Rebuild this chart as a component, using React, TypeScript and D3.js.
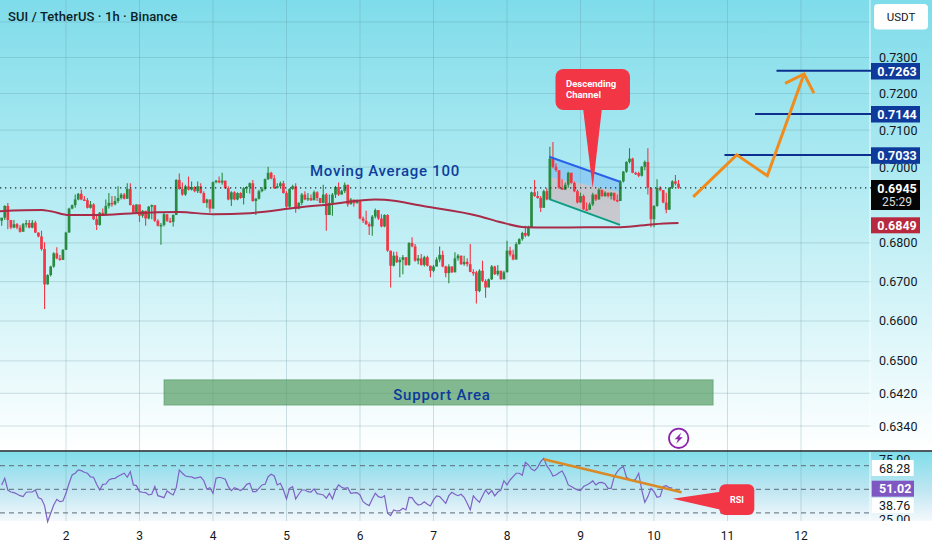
/**
 * SUI / TetherUS 1h chart with hand drawn analysis on top.
 * Prices are kept in ten-thousandths (6945 = 0.6945).
 */
import * as d3 from 'd3';

const FIRST_HOUR = -21; // hours counted from the "2" day tick

const closes = [
  6866, 6897, 6860, 6840, 6849, 6840, 6829, 6849, 6852, 6840, 6853, 6827, 6817, 6784, 6693, 6717, 6739, 6773, 6760, 6756,
  6782, 6827, 6890, 6899, 6914, 6929, 6914, 6912, 6892, 6901, 6862, 6847, 6879, 6875, 6897, 6905, 6901, 6910, 6918, 6927,
  6916, 6942, 6899, 6879, 6901, 6871, 6884, 6864, 6895, 6899, 6858, 6845, 6847, 6875, 6858, 6855, 6873, 6966, 6942, 6927,
  6949, 6940, 6947, 6936, 6949, 6931, 6905, 6914, 6890, 6960, 6964, 6959, 6964, 6944, 6914, 6933, 6914, 6931, 6918, 6944,
  6947, 6957, 6910, 6916, 6936, 6942, 6968, 6985, 6970, 6944, 6949, 6957, 6931, 6895, 6942, 6949, 6890, 6905,
  6927, 6914, 6918, 6912, 6933, 6918, 6905, 6927, 6873, 6905, 6927, 6947, 6927, 6936, 6953, 6901, 6914, 6904, 6910, 6864,
  6858, 6849, 6843, 6869, 6886, 6864, 6843, 6873, 6780, 6741, 6767, 6750, 6756, 6763, 6743, 6800, 6791, 6754, 6760, 6743,
  6763, 6741, 6728, 6739, 6757, 6769, 6739, 6722, 6739, 6724, 6760, 6767, 6745, 6751, 6745, 6725, 6724, 6676, 6728, 6702,
  6685, 6706, 6739, 6719, 6728, 6706, 6724, 6780, 6770, 6757, 6797, 6810, 6826, 6819, 6841, 6933, 6923, 6918, 6892, 6936, 6914,
  7023, 7001, 6992, 6945, 6940, 6953, 6985, 6958, 6936, 6906, 6923, 6888, 6887, 6901, 6927, 6914, 6940, 6923, 6932, 6923,
  6932, 6913, 6910, 6962, 6988, 7014, 7023, 6985, 6984, 6977, 7001, 7014, 6945, 6862, 6897, 6945, 6939, 6906, 6887, 6945,
  6962, 6956, 6945,
];

const highs = [
  6866, 6899, 6905, 6860, 6860, 6852, 6847, 6852, 6860, 6860, 6860, 6858, 6827, 6832, 6802, 6719, 6741, 6776, 6789, 6769,
  6784, 6829, 6892, 6901, 6927, 6931, 6940, 6923, 6918, 6910, 6904, 6875, 6881, 6890, 6914, 6931, 6923, 6923, 6949, 6931,
  6931, 6957, 6957, 6901, 6901, 6888, 6886, 6884, 6897, 6901, 6899, 6862, 6852, 6879, 6875, 6866, 6875, 6968, 6983, 6959,
  6953, 6975, 6962, 6949, 6962, 6957, 6936, 6916, 6914, 6962, 6966, 6975, 6985, 6964, 6949, 6936, 6936, 6933, 6933, 6947,
  6950, 6959, 6966, 6918, 6940, 6947, 6970, 7001, 6988, 6979, 6957, 6962, 6964, 6936, 6944, 6953, 6957, 6907,
  6931, 6936, 6931, 6927, 6938, 6936, 6918, 6953, 6931, 6927, 6931, 6950, 6959, 6940, 6959, 6953, 6918, 6910, 6914, 6912,
  6869, 6884, 6854, 6873, 6890, 6886, 6875, 6875, 6875, 6780, 6777, 6777, 6763, 6769, 6763, 6802, 6815, 6797, 6769, 6771,
  6767, 6767, 6741, 6743, 6763, 6791, 6780, 6741, 6745, 6739, 6776, 6771, 6767, 6767, 6760, 6797, 6732, 6728, 6732, 6754,
  6706, 6708, 6743, 6741, 6743, 6728, 6728, 6806, 6790, 6782, 6802, 6812, 6829, 6845, 6845, 6935, 6966, 6936, 6923, 6940, 6944,
  7055, 7068, 7010, 6988, 6968, 6959, 6988, 6985, 6962, 6940, 6932, 6927, 6906, 6906, 6932, 6927, 6945, 6939, 6936, 6932,
  6933, 6927, 6927, 6965, 6990, 7016, 7051, 7025, 6988, 6988, 7003, 7018, 7051, 6945, 6899, 6968, 6949, 6936, 6932, 6947,
  6965, 6979, 6966,
];

const lows = [
  6845, 6860, 6836, 6836, 6838, 6836, 6827, 6832, 6840, 6838, 6838, 6826, 6815, 6780, 6630, 6693, 6713, 6736, 6758, 6754,
  6756, 6782, 6827, 6888, 6892, 6912, 6912, 6910, 6890, 6890, 6860, 6834, 6845, 6871, 6873, 6890, 6895, 6899, 6905, 6914,
  6914, 6916, 6899, 6878, 6878, 6855, 6866, 6845, 6862, 6862, 6855, 6843, 6795, 6843, 6855, 6852, 6843, 6873, 6940, 6924,
  6924, 6938, 6938, 6933, 6931, 6930, 6904, 6892, 6879, 6890, 6957, 6957, 6953, 6942, 6912, 6897, 6912, 6912, 6916, 6901,
  6931, 6930, 6908, 6873, 6914, 6933, 6938, 6966, 6968, 6942, 6944, 6947, 6930, 6892, 6892, 6940, 6879, 6888,
  6899, 6912, 6910, 6910, 6912, 6910, 6904, 6904, 6832, 6873, 6871, 6918, 6923, 6927, 6931, 6895, 6905, 6895, 6904, 6862,
  6852, 6847, 6821, 6819, 6864, 6860, 6841, 6841, 6777, 6685, 6739, 6748, 6711, 6719, 6741, 6741, 6789, 6751, 6745, 6741,
  6739, 6739, 6711, 6724, 6739, 6750, 6737, 6711, 6696, 6722, 6724, 6754, 6743, 6741, 6739, 6724, 6715, 6644, 6673, 6699,
  6659, 6687, 6704, 6717, 6715, 6705, 6706, 6724, 6765, 6755, 6757, 6796, 6806, 6815, 6817, 6841, 6921, 6916, 6881, 6892, 6912,
  6927, 6997, 6988, 6942, 6939, 6940, 6945, 6956, 6933, 6904, 6906, 6887, 6884, 6886, 6897, 6910, 6914, 6921, 6921, 6919,
  6914, 6910, 6907, 6910, 6959, 6985, 7010, 6984, 6979, 6973, 6975, 6992, 6927, 6841, 6841, 6895, 6936, 6904, 6878, 6887,
  6942, 6951, 6942,
];

// 100 period moving average, read at the places where it bends
const maHours = [-22, -8, -5, 1, 11, 22, 37, 48, 60, 73, 76, 86, 101, 104, 117, 135, 142, 150, 158, 170, 181, 192, 200];
const maValues = [6883, 6886, 6883, 6873, 6873, 6878, 6881, 6875, 6878, 6890, 6893, 6901, 6914, 6913, 6896, 6870, 6854, 6841, 6840, 6841, 6841, 6849, 6852];

const rsiValues = [
  53.7, 59.3, 49.4, 47.7, 47.2, 46.0, 44.6, 43.8, 47.5, 47.7, 47.7, 49.4, 42.9, 41.8, 36.2, 22.6, 29.7, 36.7, 41.5, 39.5,
  40.1, 46.6, 55.1, 62.1, 63.6, 66.4, 65.8, 64.4, 63.6, 60.5, 60.2, 54.2, 49.4, 54.2, 54.5, 57.9, 59.0, 59.3, 61.0, 62.4,
  63.6, 60.2, 65.0, 53.7, 53.1, 48.0, 47.5, 47.2, 45.2, 45.8, 52.3, 44.6, 43.8, 42.9, 48.6, 46.6, 45.2, 51.4, 66.4, 63.6,
  61.3, 60.7, 60.5, 59.3, 59.9, 60.5, 57.3, 50.3, 51.4, 46.6, 59.3, 60.2, 59.6, 58.5, 52.3, 48.9, 51.4, 50.3, 48.9, 50.8,
  54.2, 55.1, 48.0, 48.0, 50.8, 53.7, 54.2, 60.7, 62.7, 61.3, 53.7, 55.1, 49.4, 41.8, 50.8, 52.3, 41.8, 45.8, 49.4, 49.4,
  48.0, 47.7, 50.3, 46.3, 45.8, 45.2, 42.4, 46.6, 41.8, 49.4, 53.7, 51.7, 50.8, 51.4, 46.6, 46.9, 47.2, 45.2, 39.5, 37.6,
  36.2, 41.8, 46.6, 43.8, 42.9, 44.6, 29.7, 27.7, 32.5, 31.6, 31.9, 33.9, 32.5, 43.2, 42.9, 39.0, 36.7, 37.3, 39.5, 37.3,
  35.9, 41.0, 44.4, 43.8, 41.0, 38.1, 44.6, 47.5, 45.8, 44.6, 45.8, 43.2, 38.1, 32.5, 44.4, 41.4, 39.0, 44.4, 49.4, 46.0,
  48.9, 44.4, 47.7, 49.4, 57.3, 53.7, 57.9, 60.7, 63.6, 63.6, 61.9, 72.9, 70.6, 67.2, 65.8, 68.6, 73.4, 76.3, 69.8, 66.4,
  61.3, 62.1, 64.1, 65.5, 60.7, 53.7, 52.3, 50.8, 49.4, 48.9, 52.3, 53.7, 55.1, 57.1, 53.7, 55.6, 55.9, 54.8, 50.8, 50.8,
  60.7, 65.0, 67.8, 69.2, 60.2, 58.5, 57.3, 58.5, 63.6, 49.4, 39.0, 43.8, 50.8, 48.0, 43.2, 43.8, 52.3, 53.1, 51.4, 51.0,
];

const priceTicks = [0.74, 0.73, 0.72, 0.71, 0.7, 0.68, 0.67, 0.66, 0.65, 0.642, 0.634];
const priceLabels = [0.73, 0.72, 0.71, 0.7, 0.68, 0.67, 0.66, 0.65, 0.642, 0.634];
const dayLabels = [2, 3, 4, 5, 6, 7, 8, 9, 10, 11, 12];
const rsiLevels = [70, 50, 30];

const targets = [
  { price: 0.7033, from: 215 },
  { price: 0.7144, from: 225 },
  { price: 0.7263, from: 232 },
];

// drawn path and arrow head, as [hour, price]
const projection: [number, number][] = [[204.8, 0.6921], [219, 0.7033], [229, 0.6977], [241, 0.7254]];
const arrowHead: [number, number][] = [[234.8, 0.7228], [241, 0.7254], [244.2, 0.7201]];
const channelTop: [number, number][] = [[157.8, 0.7028], [180.9, 0.6961]];
const channelMid: [number, number][] = [[157.8, 0.6974], [180.9, 0.6934]];
const channelBottom: [number, number][] = [[157.8, 0.6915], [180.9, 0.6847]];
const rsiTrend: [number, number][] = [[156, 75.5], [201, 47.5]];

const LAST_PRICE = 0.6945;
const SUPPORT = { from: 32, to: 211.3, top: 0.6453, bottom: 0.6391 };

const FONT = 'Roboto, sans-serif';
const UP = '#2b8a42';
const DOWN = '#f23645';
const NAVY = '#0d3a9b';
const ORANGE = '#f08c1e';
const AXIS_X = 871;

const x = d3.scaleLinear().domain([0, 240]).range([66, 801]);
const y = d3.scaleLog().domain([0.634, 0.73]).range([426, 57.5]);
const yRsi = d3.scaleLinear().domain([25, 75]).range([518.8, 459.8]);

const priceLine = d3.line<[number, number]>().x((d) => x(d[0])).y((d) => y(d[1]));
const rsiLine = d3.line<[number, number]>().x((d) => x(d[0])).y((d) => yRsi(d[1]));
const maLine = d3
  .line<number>()
  .x((_d, i) => x(maHours[i]))
  .y((d) => y(d / 10000))
  .curve(d3.curveMonotoneX);

function band(top: [number, number][], bottom: [number, number][]) {
  return priceLine([...top, ...[...bottom].reverse()]) + 'Z';
}

function Tag({ top, h, fill, text }: { top: number; h: number; fill: string; text: string }) {
  return (
    <g>
      <rect x={AXIS_X} y={top} width={49} height={h} fill={fill} />
      <text x={897} y={top + h / 2 + 4.3} textAnchor="middle" fontSize={12.5} fontWeight={700} fill="#fff">
        {text}
      </text>
    </g>
  );
}

export default function App() {
  const candles = closes.map((c, i) => {
    const open = i === 0 ? 6858 : closes[i - 1];
    return { hour: FIRST_HOUR + i, open, close: c, high: highs[i], low: lows[i] };
  });

  return (
    <>
      <style>{'body{margin:0}'}</style>
      <svg width={932} height={550} fontFamily={FONT} style={{ display: 'block' }}>
        <defs>
          <linearGradient id="mainBg" x1="0" y1="0" x2="0" y2="1">
            <stop offset="0" stopColor="#7fdcea" />
            <stop offset="0.5" stopColor="#bdeef4" />
            <stop offset="1" stopColor="#ffffff" />
          </linearGradient>
          <linearGradient id="rsiBg" x1="0" y1="0" x2="0" y2="1">
            <stop offset="0" stopColor="#80deea" />
            <stop offset="0.55" stopColor="#bfe6f2" />
            <stop offset="1" stopColor="#f4f9fc" />
          </linearGradient>
          <clipPath id="rsiAxisClip">
            <rect x={AXIS_X} y={455} width={61} height={66} />
          </clipPath>
        </defs>

        <rect width={932} height={550} fill="#fff" />
        <rect width={932} height={451} fill="url(#mainBg)" />
        <rect y={452} width={932} height={69} fill="url(#rsiBg)" />

        {/* grid */}
        <g stroke="#5f8f9c" strokeOpacity={0.28} strokeWidth={1}>
          {priceTicks.map((p) => (
            <line key={p} x1={0} x2={AXIS_X} y1={y(p)} y2={y(p)} />
          ))}
          {dayLabels.map((d, i) => (
            <line key={d} x1={x(i * 24)} x2={x(i * 24)} y1={0} y2={521} />
          ))}
        </g>
        <line x1={AXIS_X - 1} x2={AXIS_X - 1} y1={0} y2={521} stroke="#fff" strokeOpacity={0.8} />

        {/* channel fill goes under the candles */}
        <path d={band(channelTop, channelMid)} fill="#5aa0f5" fillOpacity={0.38} />
        <path d={band(channelMid, channelBottom)} fill="#d8a4aa" fillOpacity={0.5} />

        {/* support zone */}
        <rect
          x={x(SUPPORT.from)}
          y={y(SUPPORT.top)}
          width={x(SUPPORT.to) - x(SUPPORT.from)}
          height={y(SUPPORT.bottom) - y(SUPPORT.top)}
          fill="#4f9a5e"
          fillOpacity={0.68}
          stroke="#4f9a5e"
          strokeOpacity={0.6}
        />

        {/* candles */}
        {candles.map((d) => {
          const color = d.close >= d.open ? UP : DOWN;
          const top = y(Math.max(d.open, d.close) / 10000);
          const bottom = y(Math.min(d.open, d.close) / 10000);
          return (
            <g key={d.hour}>
              <line
                x1={x(d.hour)}
                x2={x(d.hour)}
                y1={y(d.high / 10000)}
                y2={y(d.low / 10000)}
                stroke={color}
                strokeWidth={1.1}
              />
              <rect x={x(d.hour) - 1.35} y={top} width={2.7} height={Math.max(bottom - top, 1.5)} fill={color} />
            </g>
          );
        })}

        <path d={maLine(maValues) ?? ''} fill="none" stroke="#a82c48" strokeWidth={2} />

        <line
          x1={0}
          x2={AXIS_X}
          y1={y(LAST_PRICE)}
          y2={y(LAST_PRICE)}
          stroke="#1a2a30"
          strokeWidth={1.2}
          strokeDasharray="1.3 3.7"
        />

        {/* channel borders */}
        <path d={priceLine(channelTop) ?? ''} stroke="#2962e8" strokeWidth={2} fill="none" />
        <path d={priceLine(channelBottom) ?? ''} stroke="#0f9d82" strokeWidth={2} fill="none" />

        {/* target levels */}
        {targets.map((t) => (
          <line key={t.price} x1={x(t.from)} x2={AXIS_X} y1={y(t.price)} y2={y(t.price)} stroke="#0c2f8f" strokeWidth={2} />
        ))}

        <path d={priceLine(projection) ?? ''} fill="none" stroke={ORANGE} strokeWidth={3} strokeLinejoin="miter" />
        <path d={priceLine(arrowHead) ?? ''} fill="none" stroke={ORANGE} strokeWidth={3} />

        {/* callout */}
        <path d="M583,108 L602,108 L592.7,188 Z" fill={DOWN} />
        <rect x={555.5} y={69} width={74.5} height={41} rx={8} fill={DOWN} />
        <text x={566} y={87} fontSize={9.5} fontWeight={700} fill="#fff">Descending</text>
        <text x={566} y={97.5} fontSize={9.5} fontWeight={700} fill="#fff">Channel</text>

        <text x={310} y={176} fontSize={15} fontWeight={500} letterSpacing={0.7} fill="#0f3f9e">
          Moving Average 100
        </text>
        <text x={442} y={399.5} textAnchor="middle" fontSize={15} fontWeight={500} letterSpacing={0.75} fill={NAVY}>
          Support Area
        </text>

        <text x={8} y={20.5} fontSize={13} fontWeight={500} letterSpacing={0.1} fill="#0c1f27">
          SUI / TetherUS · 1h · Binance
        </text>

        {/* lightning badge */}
        <g transform="translate(678.7,438.3)">
          <circle r={9.7} fill="none" stroke="#8e24aa" strokeWidth={1.8} />
          <path d="M2.5,-5.5 L-4,1 L-0.7,1 L-2.5,5.5 L4,-1 L0.7,-1 Z" fill="#8e24aa" />
        </g>

        {/* price axis */}
        <g fontSize={12.5} fill="#131722">
          {priceLabels.map((p) => (
            <text key={p} x={879} y={y(p) + 4.5}>
              {d3.format('.4f')(p)}
            </text>
          ))}
        </g>
        <rect x={874} y={4} width={54} height={25.5} rx={4} fill="#fff" />
        <text x={901} y={21} textAnchor="middle" fontSize={11.5} fill="#131722">USDT</text>

        <Tag top={63} h={16.5} fill={NAVY} text="0.7263" />
        <Tag top={106} h={16.5} fill={NAVY} text="0.7144" />
        <Tag top={147.3} h={16.5} fill={NAVY} text="0.7033" />
        <rect x={AXIS_X} y={180} width={49} height={30} fill="#050505" />
        <text x={897} y={193} textAnchor="middle" fontSize={12.5} fontWeight={700} fill="#fff">0.6945</text>
        <text x={897} y={206} textAnchor="middle" fontSize={12} fill="#ddd">25:29</text>
        <Tag top={217.3} h={16} fill="#b8283f" text="0.6849" />

        {/* rsi pane */}
        <line x1={0} x2={932} y1={451} y2={451} stroke="#16202a" strokeWidth={1.3} />
        <g stroke="#5b6b78" strokeWidth={1} strokeDasharray="5 4">
          {rsiLevels.map((l) => (
            <line key={l} x1={0} x2={AXIS_X} y1={yRsi(l)} y2={yRsi(l)} />
          ))}
        </g>
        <path
          d={
            d3
              .line<number>()
              .x((_d, i) => x(FIRST_HOUR + i))
              .y((d) => yRsi(d))(rsiValues) ?? ''
          }
          fill="none"
          stroke="#7e62c4"
          strokeWidth={1.2}
        />
        <path d={rsiLine(rsiTrend) ?? ''} stroke="#d98a26" strokeWidth={2.5} fill="none" />

        <path d="M672.7,498.7 L722,491.5 L722,510 Z" fill={DOWN} />
        <rect x={719.3} y={484.3} width={35} height={30.7} rx={6} fill={DOWN} />
        <text x={737} y={503} textAnchor="middle" fontSize={9} fontWeight={700} fill="#fff">RSI</text>

        <g clipPath="url(#rsiAxisClip)" fontSize={12.5} fill="#131722">
          <text x={879} y={463.5}>75.00</text>
          <rect x={871.7} y={460} width={42} height={16} fill="#fff" />
          <text x={879} y={472.5}>68.28</text>
          <rect x={871.7} y={498} width={42} height={15} fill="#fff" />
          <text x={879} y={510}>38.76</text>
          <text x={879} y={523.5}>25.00</text>
        </g>
        <rect x={871.7} y={480.7} width={42.3} height={16} fill="#7e57c2" />
        <text x={879} y={493} fontSize={12.5} fontWeight={700} fill="#fff">51.02</text>

        {/* time axis */}
        <g fontSize={12} fill="#131722" textAnchor="middle">
          {dayLabels.map((d, i) => (
            <text key={d} x={x(i * 24)} y={540}>
              {d}
            </text>
          ))}
        </g>
      </svg>
    </>
  );
}
